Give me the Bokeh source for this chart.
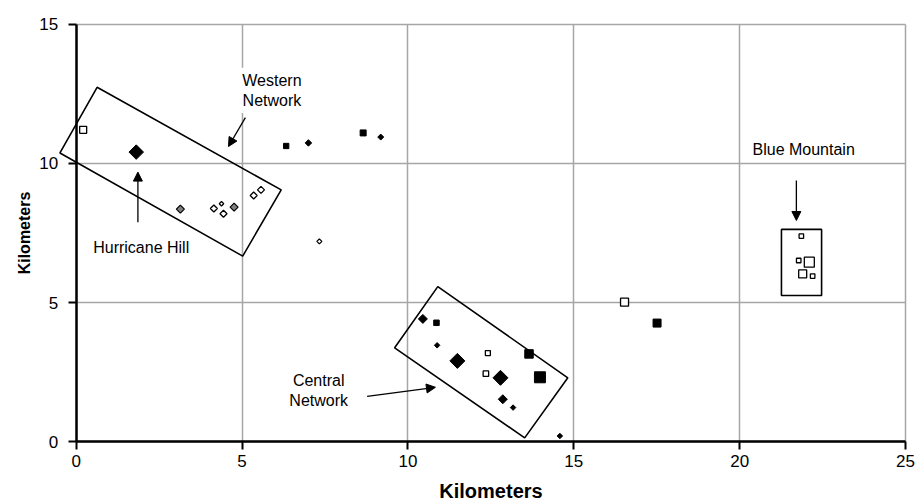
import math
from bokeh.plotting import figure
from bokeh.models import (Range1d, SingleIntervalTicker, Label, Arrow, NormalHead,
                          PolyAnnotation)
from bokeh.embed import file_html
from bokeh.resources import INLINE

# ---- data (kilometres) ----
# black filled diamonds
bd_x = [1.81, 7.00, 9.18, 10.45, 10.88, 11.49, 12.79, 12.86, 13.17, 14.58]
bd_y = [10.41, 10.74, 10.95, 4.41, 3.46, 2.90, 2.29, 1.52, 1.22, 0.20]
bd_size = [14.5, 6.5, 6.0, 9.0, 5.5, 15.0, 15.0, 9.0, 5.5, 5.5]
# grey diamonds
gd_x = [3.14, 4.76]
gd_y = [8.36, 8.43]
gd_size = [8.0, 8.0]
# open diamonds
od_x = [4.15, 4.38, 4.44, 5.35, 5.57, 7.33]
od_y = [8.38, 8.55, 8.19, 8.85, 9.05, 7.20]
od_size = [7.0, 4.5, 7.0, 7.0, 7.0, 5.0]
# black filled squares
bs_x = [6.33, 8.65, 10.86, 13.65, 13.98, 17.51]
bs_y = [10.63, 11.10, 4.27, 3.15, 2.31, 4.26]
bs_size = [5.3, 6.0, 5.5, 8.5, 11.0, 8.0]
# open squares
os_x = [0.21, 12.41, 12.35, 16.53, 21.86, 21.78, 22.10, 21.90, 22.20]
os_y = [11.21, 3.18, 2.44, 5.01, 7.39, 6.51, 6.45, 6.03, 5.95]
os_size = [7.0, 5.0, 5.5, 8.0, 4.5, 4.5, 10.0, 8.0, 4.5]

# network outlines (corner points, km)
west_x = [-0.49, 0.63, 6.18, 5.02]
west_y = [10.38, 12.74, 9.05, 6.67]
central_x = [9.60, 10.90, 14.82, 13.52]
central_y = [3.37, 5.57, 2.29, 0.13]
blue_x = [21.26, 22.47, 22.47, 21.26]
blue_y = [7.63, 7.63, 5.25, 5.25]

FONT = "Liberation Sans"
X_MAX, Y_MAX = 25, 15

# the frame covers the whole canvas; axes are pinned at x=0 / y=0 so that the
# Western Network outline may cross the vertical axis as in the original
p = figure(width=915, height=502, output_backend="svg", toolbar_location=None,
           x_range=Range1d(-2.282, 25.301), y_range=Range1d(-2.194, 15.863),
           min_border=0)
p.outline_line_color = None
p.background_fill_color = "white"
p.border_fill_color = "white"

tick = SingleIntervalTicker(interval=5, num_minor_ticks=0)
for ax in (p.xaxis[0], p.yaxis[0]):
    ax.ticker = tick
    ax.fixed_location = 0
    ax.axis_line_width = 2.5
    ax.axis_line_color = "black"
    ax.major_tick_line_width = 2
    ax.major_tick_line_color = "black"
    ax.major_tick_out = 8
    ax.major_tick_in = 0
    ax.minor_tick_line_color = None
    ax.major_label_text_font = FONT
    ax.major_label_text_font_size = "17px"
    ax.major_label_text_color = "black"
    ax.axis_label = "Kilometers"
    ax.axis_label_text_font = FONT
    ax.axis_label_text_font_style = "bold"
    ax.axis_label_text_color = "black"
p.xaxis.bounds = (0, X_MAX)
p.yaxis.bounds = (0, Y_MAX)
p.xaxis.major_label_standoff = 5
p.xaxis.axis_label_text_font_size = "20px"
p.xaxis.axis_label_standoff = 10
p.yaxis.major_label_standoff = 10
p.yaxis.axis_label_text_font_size = "16px"
p.yaxis.axis_label_standoff = 4

p.xgrid.ticker = tick
p.ygrid.ticker = tick
p.xgrid.bounds = (0, X_MAX)
p.xgrid.cross_bounds = (0, Y_MAX)
p.ygrid.bounds = (0, Y_MAX)
p.ygrid.cross_bounds = (0, X_MAX)
p.grid.grid_line_color = "#a6a6a6"
p.grid.grid_line_width = 1.5

# outlines
for xs, ys in ((west_x, west_y), (central_x, central_y), (blue_x, blue_y)):
    p.add_layout(PolyAnnotation(xs=xs, ys=ys, xs_units="data", ys_units="data",
                                fill_color=None, fill_alpha=0, line_color="black",
                                line_alpha=1.0, line_width=1.6))

r2 = math.sqrt(2)
p.scatter(bd_x, bd_y, size=[s / r2 for s in bd_size], marker="square", angle=math.pi / 4,
          fill_color="black", line_color="black", line_width=1)
p.scatter(gd_x, gd_y, size=[s / r2 for s in gd_size], marker="square", angle=math.pi / 4,
          fill_color="#808080", line_color="black", line_width=1.2)
p.scatter(od_x, od_y, size=[s / r2 for s in od_size], marker="square", angle=math.pi / 4,
          fill_color="white", line_color="black", line_width=1.3)
p.scatter(bs_x, bs_y, size=bs_size, marker="square",
          fill_color="black", line_color="black", line_width=1)
p.scatter(os_x, os_y, size=os_size, marker="square",
          fill_color="white", line_color="black", line_width=1.3)

# arrows
for xs, ys, xe, ye in ((5.10, 11.65, 4.59, 10.61),
                       (1.86, 7.89, 1.86, 9.69),
                       (8.77, 1.62, 10.83, 1.95),
                       (21.71, 9.39, 21.71, 7.95)):
    p.add_layout(Arrow(end=NormalHead(size=9, fill_color="black", line_color="black"),
                       x_start=xs, y_start=ys, x_end=xe, y_end=ye,
                       line_color="black", line_width=1.3))

def lab(x, y, t, bg=None):
    kw = dict(x=x, y=y, text=t, text_align="center", text_baseline="middle",
              text_font=FONT, text_font_size="16px", text_color="black")
    if bg:
        kw.update(background_fill_color=bg, padding=4)
    p.add_layout(Label(**kw))

lab(5.90, 12.99, "Western", "white")
lab(5.90, 12.27, "Network", "white")
lab(1.96, 6.99, "Hurricane Hill")
lab(7.31, 2.19, "Central")
lab(7.31, 1.47, "Network")
lab(21.93, 10.50, "Blue Mountain")

open("out.html", "w").write(file_html(p, INLINE))
